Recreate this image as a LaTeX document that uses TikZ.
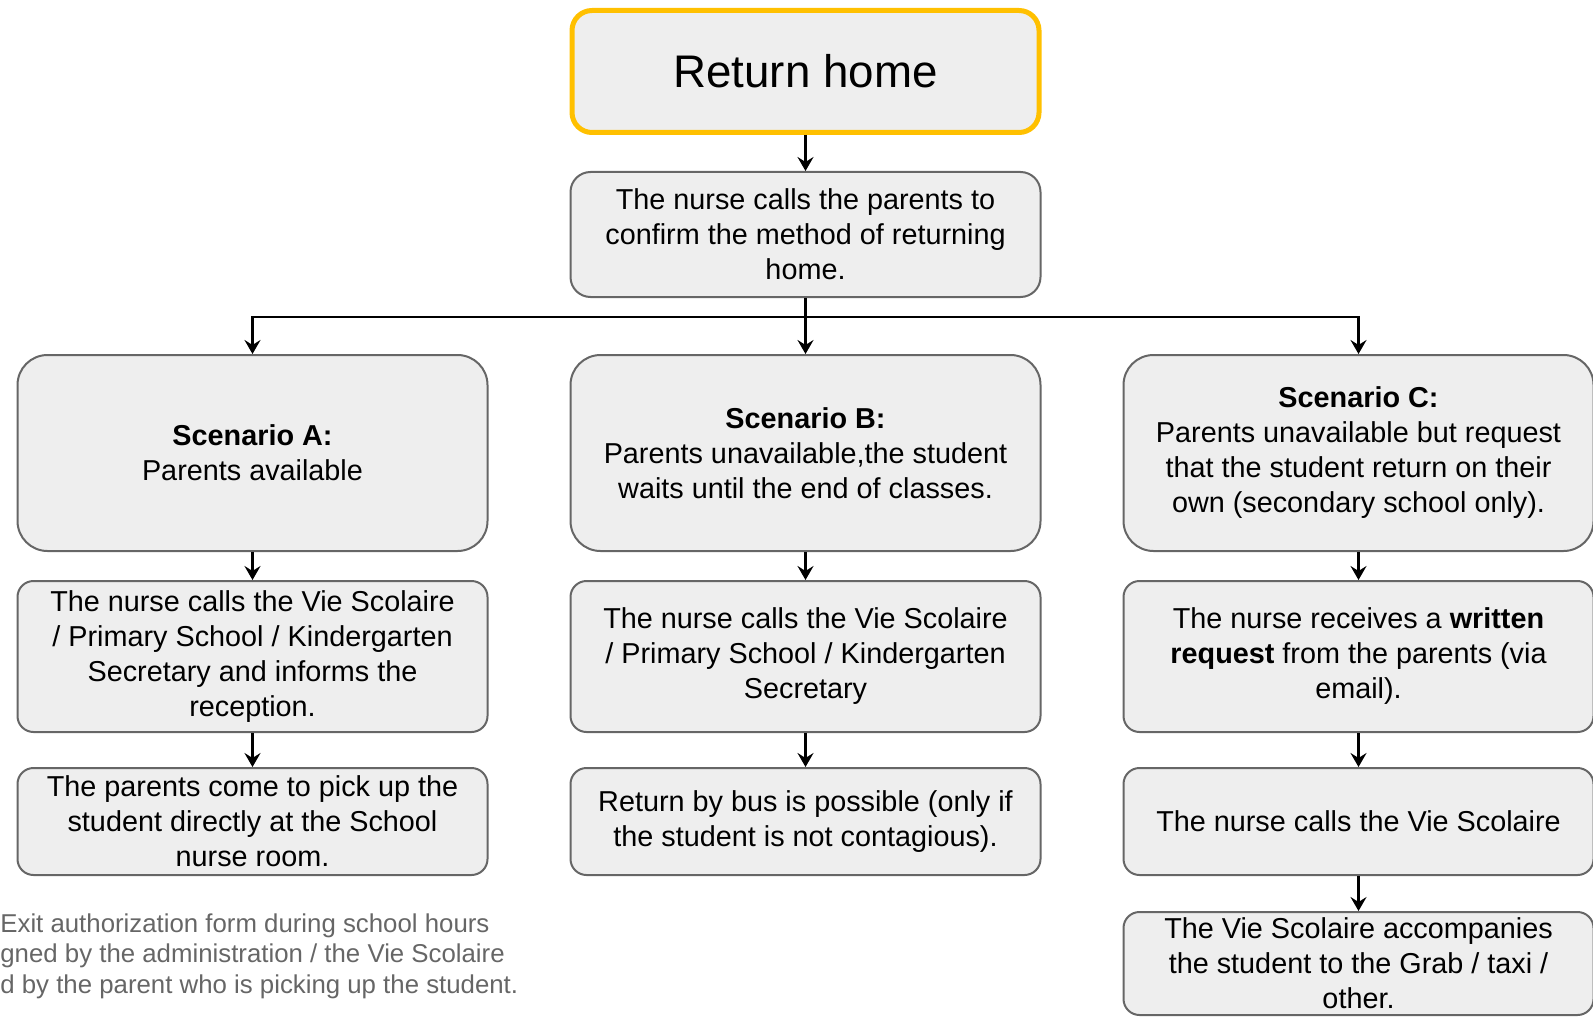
\documentclass[tikz,border=0pt]{standalone}
\usepackage{fontspec}
\setmainfont{Liberation Sans}
\usetikzlibrary{
  arrows.meta,
  positioning
}
\definecolor{BoxFill}{RGB}{238,238,238}
\definecolor{BoxLine}{RGB}{102,102,102}
\definecolor{TitleGold}{RGB}{255,192,0}
\definecolor{NoteGray}{RGB}{102,102,102}
\tikzset{
  titlebox/.style={draw=TitleGold,fill=BoxFill,line width=2.5pt,rounded corners=10pt,minimum width=233.5pt,minimum height=61pt,align=center,font=\fontsize{22.85}{27}\selectfont},
  stepbox/.style={draw=BoxLine,fill=BoxFill,line width=1pt,rounded corners=8pt,minimum width=235pt,align=center,inner sep=2pt,font=\fontsize{14.4}{17.5}\selectfont},
  callbox/.style={stepbox,rounded corners=10pt,minimum height=62.5pt},
  scenbox/.style={stepbox,rounded corners=15pt,minimum height=98pt},
  infobox/.style={stepbox,minimum height=75.5pt},
  actbox/.style={stepbox,minimum height=53.5pt},
  lastbox/.style={stepbox,minimum height=51.5pt},
  flow/.style={-{Stealth[length=7pt,width=8pt,inset=2.5pt]},line width=1.1pt,draw=black},
  notetext/.style={text=NoteGray,align=left,inner sep=0pt,font=\fontsize{12.9}{15.25}\selectfont}
}

\begin{document}
\begin{tikzpicture}[node distance=14pt]
\useasboundingbox (0,0) rectangle (796.5pt,-508pt);
\node[titlebox] (home) at (402.75pt,-35.75pt) {Return home};
\node[callbox, below=18pt of home] (calls) {The nurse calls the parents to\\confirm the method of returning\\home.};
\node[scenbox, below=28pt of calls] (scenB) {\textbf{Scenario B:}\\Parents unavailable,the student\\waits until the end of classes.};
\node[scenbox, left=40.5pt of scenB] (scenA) {\textbf{Scenario A:}\\Parents available};
\node[scenbox, right=40.5pt of scenB] (scenC) {\textbf{Scenario C:}\\Parents unavailable but request\\that the student return on their\\own (secondary school only).};
\node[infobox, below=of scenA] (infoA) {The nurse calls the Vie Scolaire\\/ Primary School / Kindergarten\\Secretary and informs the\\reception.};
\node[infobox, below=of scenB] (infoB) {The nurse calls the Vie Scolaire\\/ Primary School / Kindergarten\\Secretary};
\node[infobox, below=of scenC] (infoC) {The nurse receives a \textbf{written}\\\textbf{request} from the parents (via\\email).};
\node[actbox, below=17pt of infoA] (actA) {The parents come to pick up the\\student directly at the School\\nurse room.};
\node[actbox, below=17pt of infoB] (actB) {Return by bus is possible (only if\\the student is not contagious).};
\node[actbox, below=17pt of infoC] (actC) {The nurse calls the Vie Scolaire};
\node[lastbox, below=17.5pt of actC] (lastC) {The Vie Scolaire accompanies\\the student to the Grab / taxi /\\other.};
\node[notetext, anchor=west] (note) at (0,-478pt) {Exit authorization form during school hours\\gned by the administration / the Vie Scolaire\\d by the parent who is picking up the student.};
% connectors
\coordinate[below=9.5pt of calls] (split);
\draw[flow] (home) -- (calls);
\draw[flow] (calls) -- (scenB);
\draw[flow] (calls.south) -- (split) -| (scenA);
\draw[flow] (calls.south) -- (split) -| (scenC);
\draw[flow] (scenA) -- (infoA);
\draw[flow] (scenB) -- (infoB);
\draw[flow] (scenC) -- (infoC);
\draw[flow] (infoA) -- (actA);
\draw[flow] (infoB) -- (actB);
\draw[flow] (infoC) -- (actC);
\draw[flow] (actC) -- (lastC);
\end{tikzpicture}
\end{document}
